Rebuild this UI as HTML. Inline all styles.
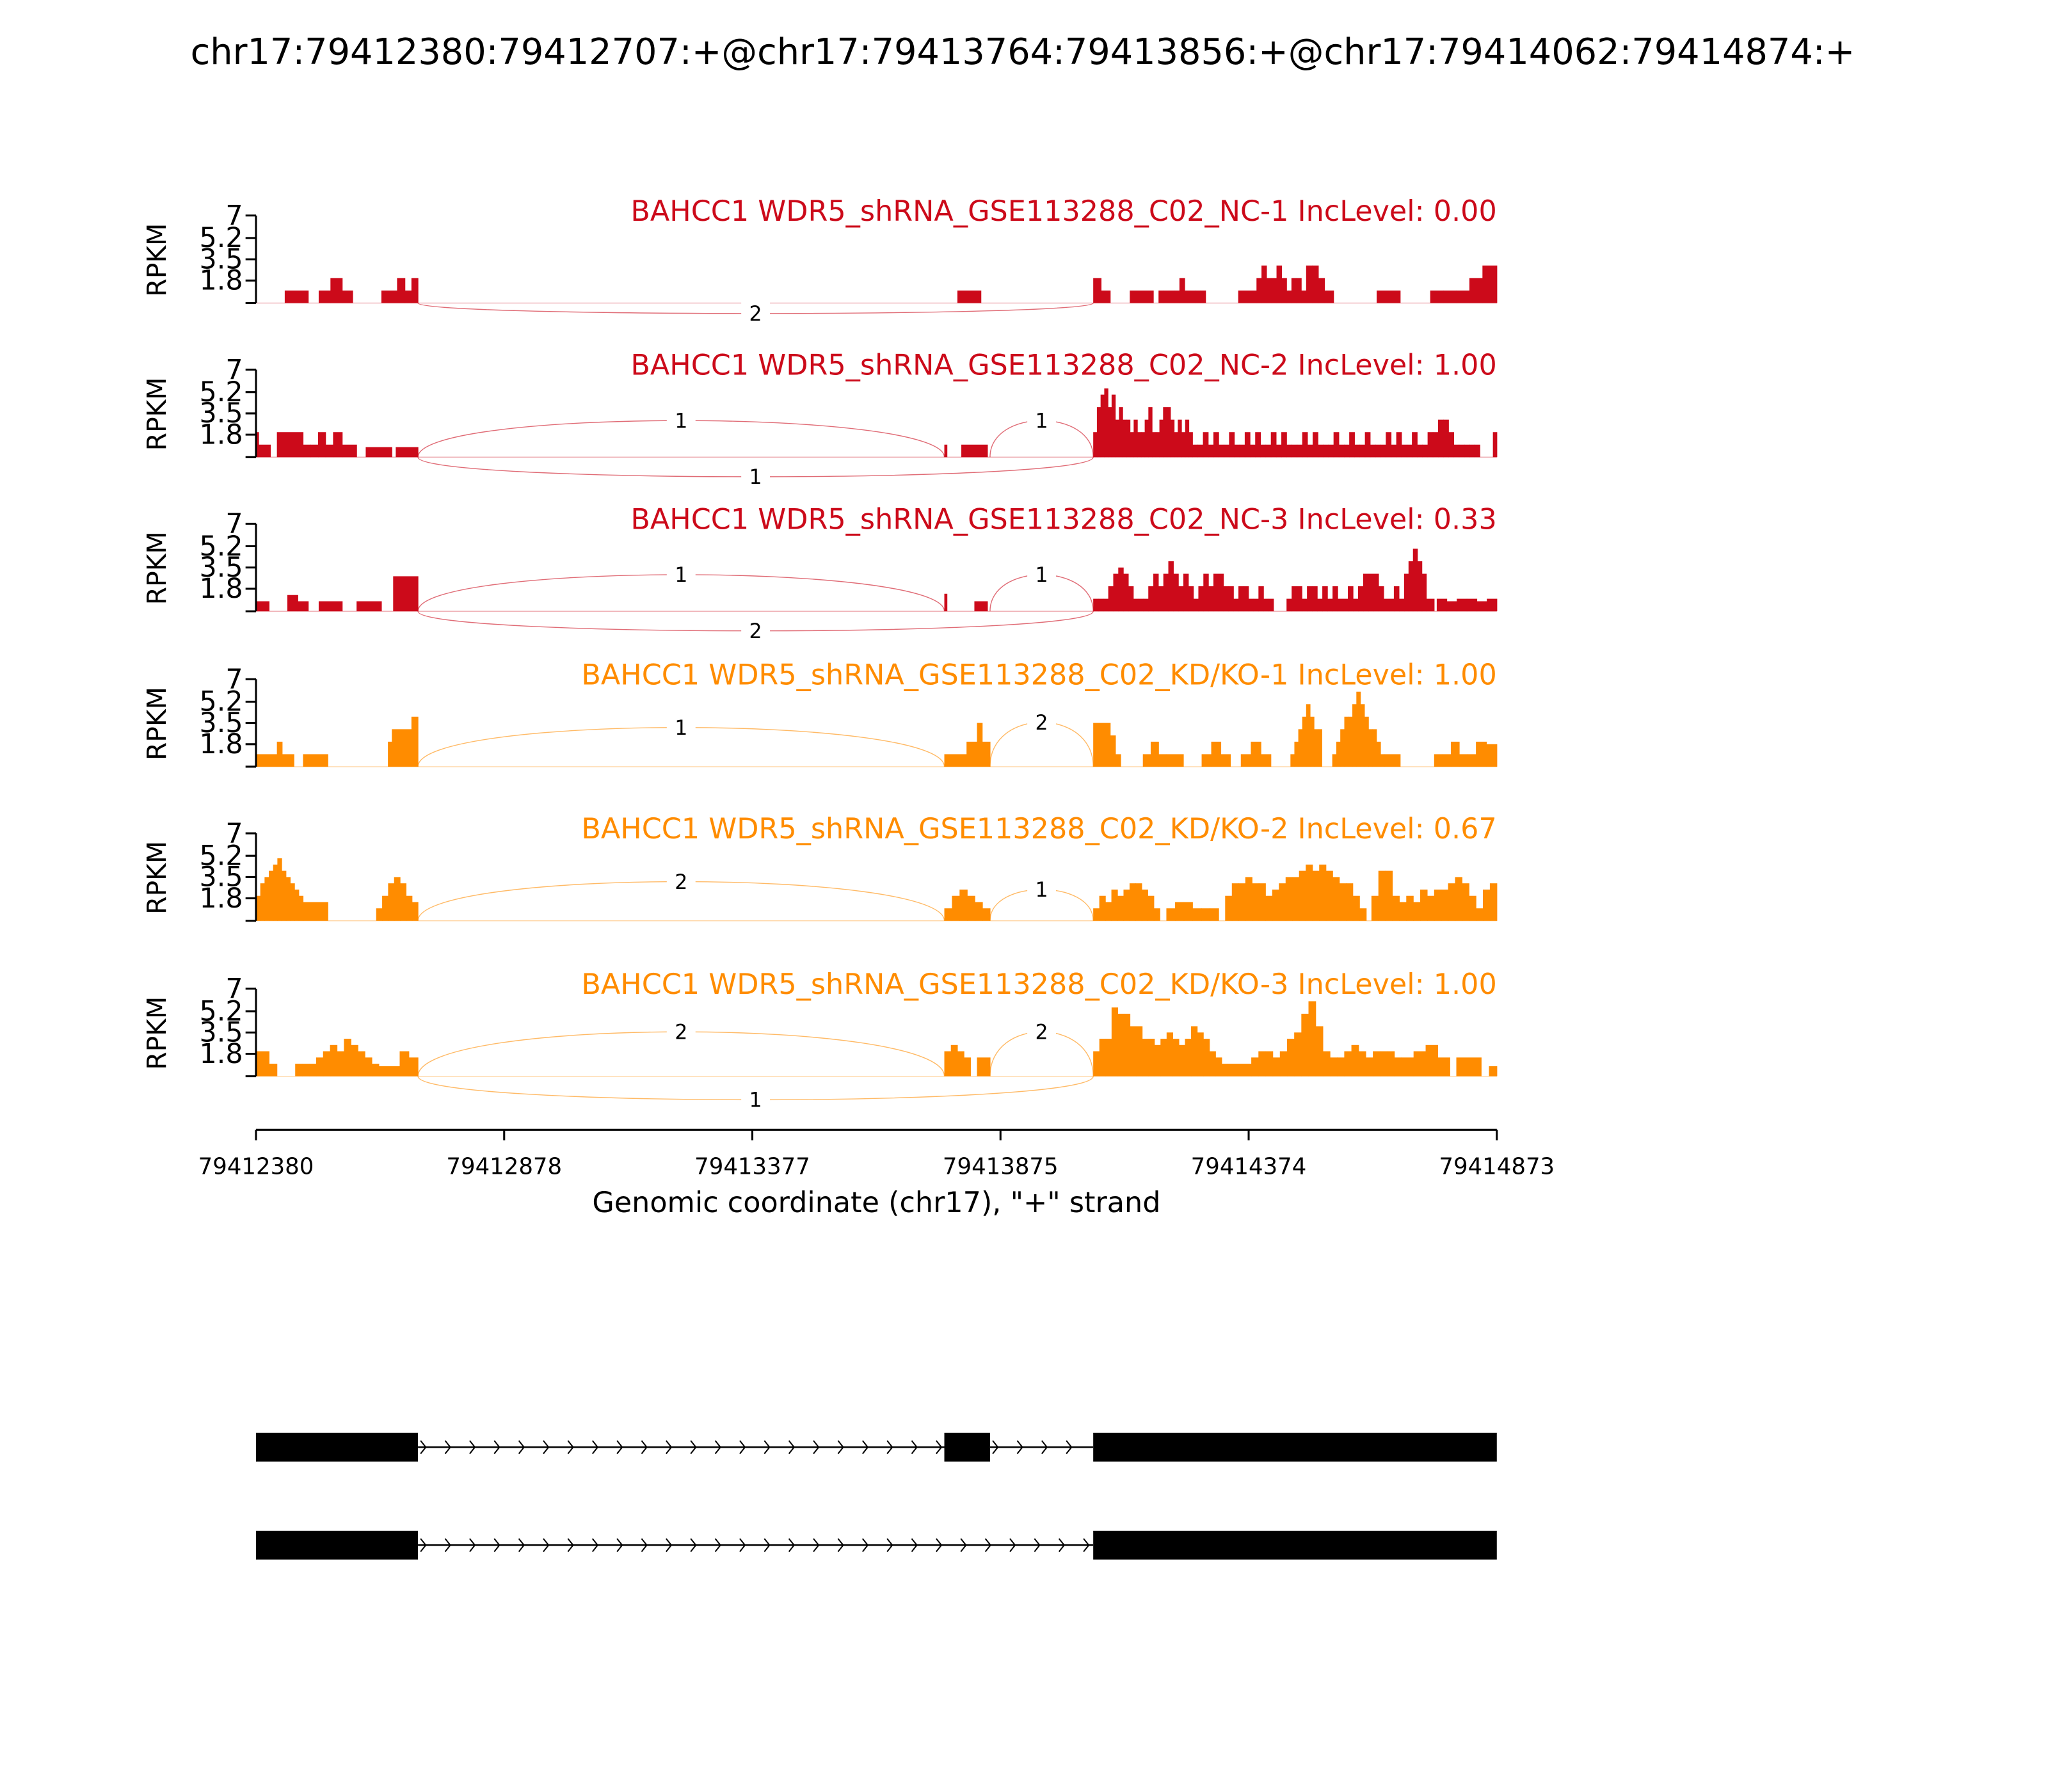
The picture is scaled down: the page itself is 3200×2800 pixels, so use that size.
<!DOCTYPE html>
<html><head><meta charset="utf-8"><style>html,body{margin:0;padding:0;background:#fff}svg{display:block}</style></head>
<body>
<svg id="s" xmlns="http://www.w3.org/2000/svg" width="3200" height="2800" viewBox="0 0 1568 1372" font-family="DejaVu Sans, Liberation Sans, sans-serif">
<rect width="1568" height="1372" fill="#fff"/>
<text x="783" y="49" font-size="27.3" text-anchor="middle">chr17:79412380:79412707:+@chr17:79413764:79413856:+@chr17:79414062:79414874:+</text>
<g id="g"></g>
<g stroke="#000" stroke-width="1.5">
<line x1="196" y1="865" x2="1146" y2="865"/>
<line x1="196" y1="865" x2="196" y2="873"/><line x1="386" y1="865" x2="386" y2="873"/><line x1="576" y1="865" x2="576" y2="873"/><line x1="766" y1="865" x2="766" y2="873"/><line x1="956" y1="865" x2="956" y2="873"/><line x1="1146" y1="865" x2="1146" y2="873"/>
</g>
<g font-size="17.4" text-anchor="middle">
<text x="196" y="899">79412380</text><text x="386" y="899">79412878</text><text x="576" y="899">79413377</text><text x="766" y="899">79413875</text><text x="956" y="899">79414374</text><text x="1146" y="899">79414873</text>
</g>
<text x="671" y="928" font-size="21.8" text-anchor="middle">Genomic coordinate (chr17), "+" strand</text>
<g id="tr"></g>
</svg>
<script>
var g=document.getElementById('g'),h='';
var RED='#cc0a1a',OR='#ff8c00';
var P=[
{b:232,c:RED,t:'BAHCC1 WDR5_shRNA_GSE113288_C02_NC-1 IncLevel: 0.00',
 d:[[218,236,[1]],[244,253,[1]],[253,262,[2]],[262,270,[1]],[292,304,[1]],[304,310,[2]],[310,315,[1]],[315,320,[2]],[733,751,[1]],[837,843,[2]],[843,850,[1]],[865,883,[1]],[887,923,[1,1,1,1,2,1,1,1,1]],[948,962,[1]],[962,985,[2,3,2,2,3,2]],[985,1000,[1,2,2,1]],[1000,1014,[3,3,2]],[1014,1021,[1]],[1054,1072,[1]],[1095,1135,[1,1,1,2]],[1135,1146,[3]]],
 up:[],dn:[[320,837,'2',8]]},
{b:350,c:RED,t:'BAHCC1 WDR5_shRNA_GSE113288_C02_NC-2 IncLevel: 1.00',
 d:[[196,198,[2]],[198,207,[1]],[212,232,[2]],[232,255,[1,1,2,1]],[255,262,[2]],[262,273,[1]],[280,300,[0.8]],[303,320,[0.8]],[723,725,[1]],[736,756,[1]],
 [837,913,[2,4,5,5.5,4,5,3,4,3,3,2,3,2,2,3,4,2,2,3,4,4,3,2,3,2,3,2]],[913,1133,[1,1,2,1,2,1,1,2,1,1,2,1,2,1,1,2,1,2,1,1,1,2,1,2,1,1,1,2,1,1,2,1,1,2,1,1,1,2,1,2,1,1,2,1,1,2,2,3,3,2,1,1,1,1,1]],[1143,1146,[2]]],
 up:[[320,723,'1',28],[758,837,'1',28]],dn:[[320,837,'1',15]]},
{b:468,c:RED,t:'BAHCC1 WDR5_shRNA_GSE113288_C02_NC-3 IncLevel: 0.33',
 d:[[196,206,[0.8]],[220,228,[1.3]],[228,236,[0.8]],[244,262,[0.8]],[273,292,[0.8]],[301,320,[2.8]],[723,725,[1.4]],[746,756,[0.8]],
 [837,975,[1,1,1,2,3,3.5,3,2,1,1,1,2,3,2,3,4,3,2,3,2,1,2,3,2,3,3,2,2,1,2,2,1,1,2,1,1]],[985,1075,[1,2,2,1,2,2,1,2,1,2,1,1,2,1,2,3,3,3,2,1,1,2,1]],[1075,1092,[3,4,5,4,3]],[1092,1098,[1]],[1100,1146,[1,0.8,1,1,0.8,1]]],
 up:[[320,723,'1',28],[758,837,'1',28]],dn:[[320,837,'2',15]]},
{b:587,c:OR,t:'BAHCC1 WDR5_shRNA_GSE113288_C02_KD/KO-1 IncLevel: 1.00',
 d:[[196,212,[1]],[212,216,[2]],[216,225,[1]],[232,251,[1]],[297,300,[2]],[300,315,[3]],[315,320,[4]],[723,740,[1]],[740,748,[2]],[748,752,[3.5]],[752,758,[2]],
 [837,850,[3.5]],[850,858,[2.5,1]],[875,893,[1,2,1]],[893,906,[1]],[920,942,[1,2,1]],[950,973,[1,2,1]],[988,1012,[1,2,3,4,5,4,3,3]],[1020,1060,[1,2,3,4,4,5,6,5,4,3,3,2,1]],[1060,1072,[1]],[1098,1130,[1,1,2,1,1]],[1130,1146,[2,1.8]]],
 up:[[320,723,'1',30],[758,837,'2',34]],dn:[]},
{b:705,c:OR,t:'BAHCC1 WDR5_shRNA_GSE113288_C02_KD/KO-2 IncLevel: 0.67',
 d:[[196,232,[2,3,3.5,4,4.5,5,4,3.5,3,2.5,2]],[232,251,[1.5]],[288,320,[1,2,3,3.5,3,2,1.5]],[723,758,[1,2,2.5,2,1.5,1]],
 [837,888,[1,2,1.5,2.5,2,2.5,3,3,2.5,2,1]],[893,933,[1,1.5,1.5,1,1,1]],[938,1046,[2,3,3,3.5,3,3,2,2.5,3,3.5,3.5,4,4.5,4,4.5,4,3.5,3,3,2,1]],[1050,1146,[2,4,4,2,1.5,2,1.5,2.5,2,2.5,2.5,3,3.5,3,2,1,2.5,3]]],
 up:[[320,723,'2',30],[758,837,'1',24]],dn:[]},
{b:824,c:OR,t:'BAHCC1 WDR5_shRNA_GSE113288_C02_KD/KO-3 IncLevel: 1.00',
 d:[[196,206,[2]],[206,212,[1]],[226,290,[1,1,1,1.5,2,2.5,2,3,2.5,2,1.5,1]],[290,306,[0.8]],[306,320,[2,1.5]],[723,743,[2,2.5,2,1.5]],[748,758,[1.5]],
 [837,940,[2,3,3,5.5,5,5,4,4,3,3,2.5,3,3.5,3,2.5,3,4,3.5,3,2,1.5,1]],[940,958,[1]],[958,1073,[1.5,2,2,1.5,2,3,3.5,5,6,4,2,1.5,1.5,2,2.5,2,1.5,2,2,2,1.5]],[1073,1110,[1.5,2,2.5,1.5]],[1115,1134,[1.5]],[1140,1146,[0.8]]],
 up:[[320,723,'2',34],[758,837,'2',34]],dn:[[320,837,'1',18]]}
];
var U=67/7;
P.forEach(function(p){
 var b=p.b,top=b-67;
 p.d.forEach(function(s){var n=s[2].length,w=(s[1]-s[0])/n;
  for(var i=0;i<n;i++){var x=s[0]+i*w;h+='<rect x="'+x.toFixed(2)+'" y="'+(b-s[2][i]*U).toFixed(2)+'" width="'+(w+0.3).toFixed(2)+'" height="'+(s[2][i]*U).toFixed(2)+'" fill="'+p.c+'"/>';}
 });
 h+='<line x1="196" y1="'+b+'" x2="1146" y2="'+b+'" stroke="'+p.c+'" stroke-width="0.6" opacity="0.4"/>';
 function arc(a,dir){var x0=a[0],x1=a[1],d=a[3]*dir,cy=b-d*4/3,mx=(x0+x1)/2,ly=b-d;
  h+='<path d="M'+x0+','+b+' C'+x0+','+cy+' '+x1+','+cy+' '+x1+','+b+'" fill="none" stroke="'+p.c+'" stroke-width="0.7" opacity="0.6"/>';
  h+='<rect x="'+(mx-11)+'" y="'+(ly-9)+'" width="22" height="18" fill="#fff"/>';
  h+='<text x="'+mx+'" y="'+(ly+5.5)+'" font-size="15.5" text-anchor="middle">'+a[2]+'</text>';}
 p.up.forEach(function(a){arc(a,1)});p.dn.forEach(function(a){arc(a,-1)});
 h+='<line x1="196" y1="'+top+'" x2="196" y2="'+b+'" stroke="#000" stroke-width="1.5"/>';
 [0,1.8,3.5,5.2,7].forEach(function(v){var y=b-v*U;h+='<line x1="188" y1="'+y+'" x2="196" y2="'+y+'" stroke="#000" stroke-width="1.5"/>';
  if(v>0)h+='<text x="186" y="'+(y+7)+'" font-size="21" text-anchor="end">'+(v==7?'7':v)+'</text>';});
 h+='<text transform="translate(127,'+(b-33)+') rotate(-90)" font-size="20" text-anchor="middle">RPKM</text>';
 h+='<text x="1146" y="'+(b-63)+'" font-size="21.8" text-anchor="end" fill="'+p.c+'">'+p.t+'</text>';
});
g.innerHTML=h;
var t='';
function track(y,ex){ex.forEach(function(e){t+='<rect x="'+e[0]+'" y="'+(y-11)+'" width="'+(e[1]-e[0])+'" height="22" fill="#000"/>';});
 for(var i=0;i<ex.length-1;i++){var a=ex[i][1],c=ex[i+1][0];t+='<line x1="'+a+'" y1="'+y+'" x2="'+c+'" y2="'+y+'" stroke="#000" stroke-width="1.2"/>';
  for(var x=a+4;x<c-4;x+=18.8){t+='<path d="M'+(x-2)+','+(y-5)+' L'+(x+2)+','+y+' L'+(x-2)+','+(y+5)+'" fill="none" stroke="#000" stroke-width="1"/>';}}}
track(1108,[[196,320],[723,758],[837,1146]]);
track(1183,[[196,320],[837,1146]]);
document.getElementById('tr').innerHTML=t;
</script>
</body></html>
